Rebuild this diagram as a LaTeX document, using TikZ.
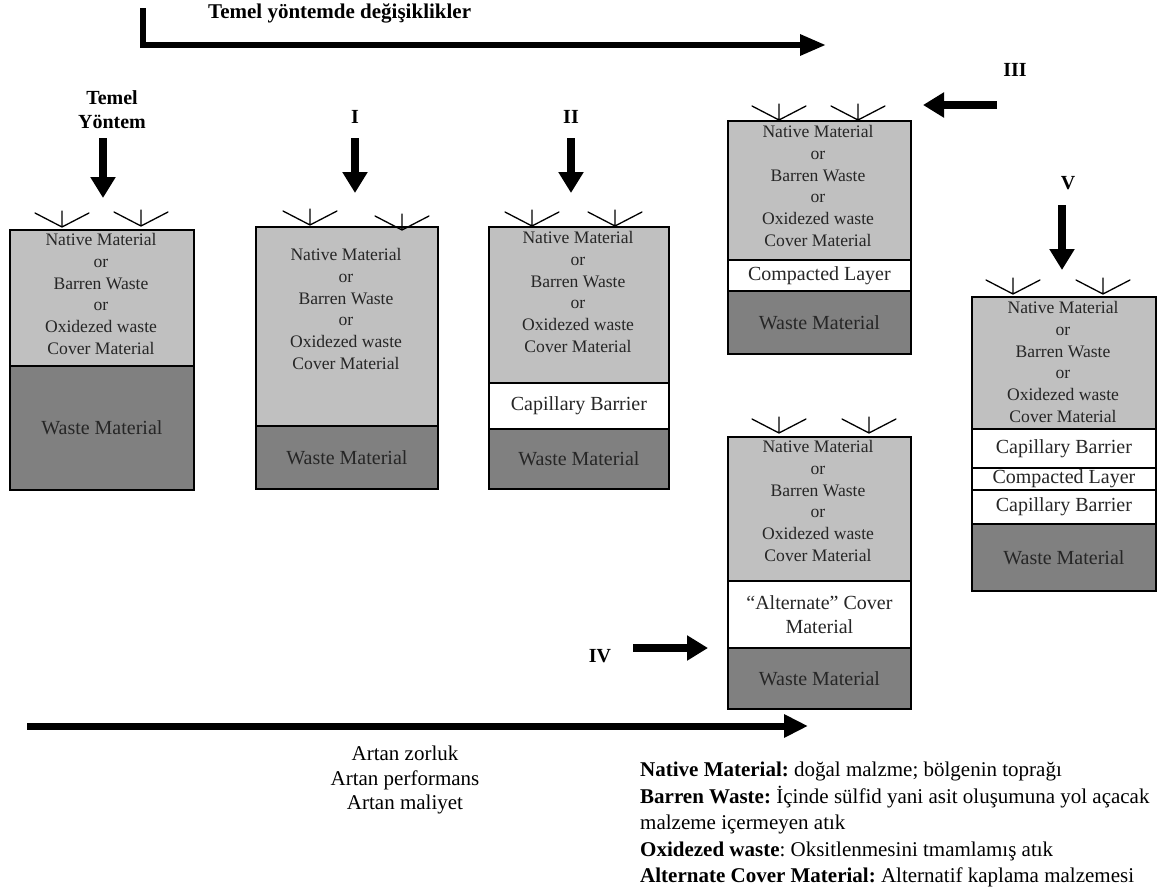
\documentclass[tikz,border=0pt]{standalone}
\usepackage{fontspec}
\setmainfont{Liberation Serif}
\usetikzlibrary{arrows.meta,positioning}
\frenchspacing
\definecolor{covergray}{HTML}{C0C0C0}
\definecolor{wastegray}{HTML}{808080}
\newcommand{\covertext}{Native Material\\or\\Barren Waste\\or\\Oxidezed waste\\Cover Material}
\tikzset{
  layer/.style={draw=black, line width=1.8pt, anchor=north west, inner sep=0pt,
    align=center, text=black!85, font=\fontsize{20}{24}\selectfont},
  cover/.style={layer, fill=covergray},
  waste/.style={layer, fill=wastegray},
  barrier/.style={layer, fill=white},
  covertext/.style={align=center, inner sep=0pt, text=black!85, font=\fontsize{17.6}{21.7}\selectfont},
  lab/.style={align=center, inner sep=0pt, font=\bfseries\fontsize{20}{24}\selectfont},
  infil/.style={line width=1.3pt, line cap=round},
  fat/.style={line width=8pt, -{Triangle[length=21pt,width=24pt]}},
  bracket/.style={line width=6pt, -{Triangle[length=26pt,width=20pt]}},
}
\begin{document}
\begin{tikzpicture}[x=1pt, y=-1pt]
\useasboundingbox (0,0) rectangle (1163,894);
% Top arrow
\coordinate (top-s) at (143,8);
\coordinate (top-e) at (826,45);
\draw[bracket] (top-s) |- (top-e);
\node[lab, anchor=west, font=\bfseries\fontsize{21}{24}\selectfont] (title) at (208,13) {Temel yöntemde değişiklikler};
% Labels
\node[lab] (lab-0) at (112,110) {Temel\\Yöntem};
\node[lab] (lab-1) at (355,117) {I};
\node[lab] (lab-2) at (571,117) {II};
\node[lab] (lab-3) at (1015,70) {III};
\node[lab] (lab-4) at (600,656) {IV};
\node[lab] (lab-5) at (1068,183) {V};
% Arrows
\foreach \a/\x/\ya/\yb in {0/103/138/198, 1/355/138/193, 2/571/138/193, 5/1062/205/270} {
  \coordinate (arr-\a-s) at (\x,\ya);
  \coordinate (arr-\a-e) at (\x,\yb);
  \draw[fat] (arr-\a-s) -- (arr-\a-e);
}
\coordinate (arr-3-s) at (997,105);
\coordinate (arr-3-e) at (923,105);
\draw[fat] (arr-3-s) -- (arr-3-e);
\coordinate (arr-4-s) at (633,648);
\coordinate (arr-4-e) at (708,648);
\draw[fat] (arr-4-s) -- (arr-4-e);
% Temel yontem
\node[cover, minimum width=184pt, minimum height=136pt] (cov-0) at (9,229) {};
\node[waste, minimum width=184pt, minimum height=124pt] (was-0) at (9,365) {Waste Material};
\node[covertext] (txt-0) at (101,294) {\covertext};
% I
\node[cover, minimum width=182pt, minimum height=199pt] (cov-1) at (255,226) {};
\node[waste, minimum width=182pt, minimum height=63pt] (was-1) at (255,425) {Waste Material};
\node[covertext] (txt-1) at (346,309) {\covertext};
% II
\node[cover, minimum width=180pt, minimum height=156pt] (cov-2) at (488,226) {};
\node[barrier, minimum width=180pt, minimum height=46pt] (cap-2) at (488,382) {Capillary Barrier};
\node[waste, minimum width=180pt, minimum height=60pt] (was-2) at (488,428) {Waste Material};
\node[covertext] (txt-2) at (578,292) {\covertext};
% III
\node[cover, minimum width=183pt, minimum height=139pt] (cov-3) at (727,120) {};
\node[barrier, minimum width=183pt, minimum height=31pt] (com-3) at (727,259) {Compacted Layer};
\node[waste, minimum width=183pt, minimum height=63pt] (was-3) at (727,290) {Waste Material};
\node[covertext] (txt-3) at (818,186) {\covertext};
% IV
\node[cover, minimum width=183pt, minimum height=144pt] (cov-4) at (727,436) {};
\node[barrier, minimum width=183pt, minimum height=67pt] (alt-4) at (727,580) {“Alternate” Cover\\Material};
\node[waste, minimum width=183pt, minimum height=61pt] (was-4) at (727,647) {Waste Material};
\node[covertext] (txt-4) at (818,501) {\covertext};
% V
\node[cover, minimum width=184pt, minimum height=132pt] (cov-5) at (971,296) {};
\node[barrier, minimum width=184pt, minimum height=39pt] (cap-5a) at (971,428) {Capillary Barrier};
\node[barrier, minimum width=184pt, minimum height=22pt] (com-5) at (971,467) {Compacted Layer};
\node[barrier, minimum width=184pt, minimum height=34pt] (cap-5b) at (971,489) {Capillary Barrier};
\node[waste, minimum width=184pt, minimum height=67pt] (was-5) at (971,523) {Waste Material};
\node[covertext] (txt-5) at (1063,362) {\covertext};
% Infiltration marks
\foreach \x/\y in {62/227, 141/226, 310/225, 402/230, 532/226, 615/226, 779/120, 858/120, 779/433, 869/433, 1013/294, 1103/294}
  \draw[infil] (\x-27,\y-14) -- (\x,\y) -- (\x+27,\y-14) (\x,\y-16) -- (\x,\y);
% Bottom arrow
\coordinate (bot-s) at (27,726);
\coordinate (bot-e) at (808,726);
\draw[line width=7pt, -{Triangle[length=24pt,width=22pt]}] (bot-s) -- (bot-e);
\node[align=center, inner sep=0pt, font=\fontsize{21}{24.5}\selectfont] (artan) at (405,780) {Artan zorluk\\Artan performans\\Artan maliyet};
% Legend
\node[align=left, anchor=north west, inner sep=0pt, font=\fontsize{21}{26.5}\selectfont] (legend) at (640,762)
  {\textbf{Native Material:} doğal malzme; bölgenin toprağı\\
   \textbf{Barren Waste:} İçinde sülfid yani asit oluşumuna yol açacak\\
   malzeme içermeyen atık\\
   \textbf{Oxidezed waste}: Oksitlenmesini tmamlamış atık\\
   \textbf{Alternate Cover Material:} Alternatif kaplama malzemesi};
\end{tikzpicture}
\end{document}
